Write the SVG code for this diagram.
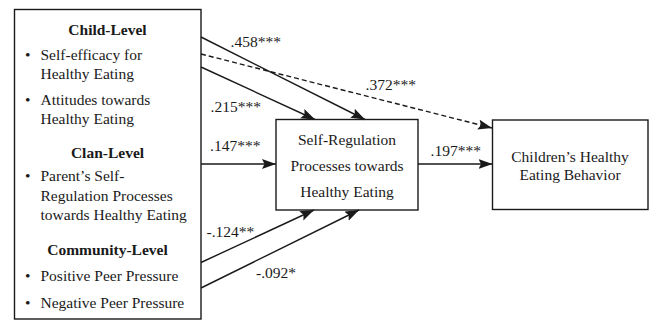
<svg xmlns="http://www.w3.org/2000/svg" width="651" height="321" viewBox="0 0 651 321" font-family="'Liberation Serif', 'Times New Roman', Times, serif">
<style>
.box{fill:#fff;stroke:#1a1a1a;stroke-width:1.4}
.t{font-family:'Liberation Serif','Times New Roman',Times,serif;font-size:15.5px;fill:#1a1a1a}
.h{font-weight:bold;text-anchor:middle}
.c{text-anchor:middle}
.ln{stroke:#1a1a1a;stroke-width:1.4;fill:none;marker-end:url(#ah)}
.dash{stroke-dasharray:5,3}
</style>
<defs>
<marker id="ah" markerUnits="userSpaceOnUse" markerWidth="16" markerHeight="12" refX="14" refY="5" orient="auto">
<path d="M0,0 L14,5 L0,10 L2.5,5 z" fill="#1a1a1a"/>
</marker>
</defs>
<rect width="651" height="321" fill="#fff"/>
<g id="predictors">
<rect class="box" x="14.5" y="9.5" width="186.5" height="309.5"/>
<text class="t h" x="107.5" y="34.5">Child-Level</text>
<text class="t" x="25" y="60">•</text>
<text class="t" x="40.5" y="60">Self-efficacy for</text>
<text class="t" x="40.5" y="78.5">Healthy Eating</text>
<text class="t" x="25" y="104.5">•</text>
<text class="t" x="40.5" y="104.5">Attitudes towards</text>
<text class="t" x="40.5" y="123.5">Healthy Eating</text>
<text class="t h" x="107.5" y="158">Clan-Level</text>
<text class="t" x="25" y="181">•</text>
<text class="t" x="40.5" y="181">Parent’s Self-</text>
<text class="t" x="40.5" y="200.5">Regulation Processes</text>
<text class="t" x="40.5" y="220">towards Healthy Eating</text>
<text class="t h" x="107.5" y="255">Community-Level</text>
<text class="t" x="25" y="280.5">•</text>
<text class="t" x="40.5" y="280.5">Positive Peer Pressure</text>
<text class="t" x="25" y="308">•</text>
<text class="t" x="40.5" y="308">Negative Peer Pressure</text>
</g>
<g id="self-regulation">
<rect class="box" x="276" y="119.5" width="142" height="90.5"/>
<text class="t c" x="347" y="145">Self-Regulation</text>
<text class="t c" x="347" y="171">Processes towards</text>
<text class="t c" x="347" y="197">Healthy Eating</text>
</g>
<g id="behavior">
<rect class="box" x="492.5" y="120" width="155.5" height="89.5"/>
<text class="t c" x="570" y="162">Children’s Healthy</text>
<text class="t c" x="570" y="180">Eating Behavior</text>
</g>
<g id="connectors">
<line class="ln" x1="201" y1="37" x2="365" y2="119.5"/>
<line class="ln dash" x1="201" y1="54" x2="492" y2="128"/>
<line class="ln" x1="201" y1="67" x2="315" y2="119.5"/>
<line class="ln" x1="201" y1="164" x2="276" y2="164"/>
<line class="ln" x1="418" y1="164" x2="492.5" y2="164"/>
<line class="ln" x1="201" y1="262.5" x2="314" y2="210"/>
<line class="ln" x1="201" y1="288" x2="359" y2="210"/>
<text class="t" x="230.5" y="46.5">.458***</text>
<text class="t" x="365.5" y="89.5">.372***</text>
<text class="t" x="210.5" y="112">.215***</text>
<text class="t" x="210" y="151">.147***</text>
<text class="t" x="430.5" y="155.5">.197***</text>
<text class="t" x="206.5" y="236.5">-.124**</text>
<text class="t" x="256" y="277.5">-.092*</text>
</g>
</svg>
